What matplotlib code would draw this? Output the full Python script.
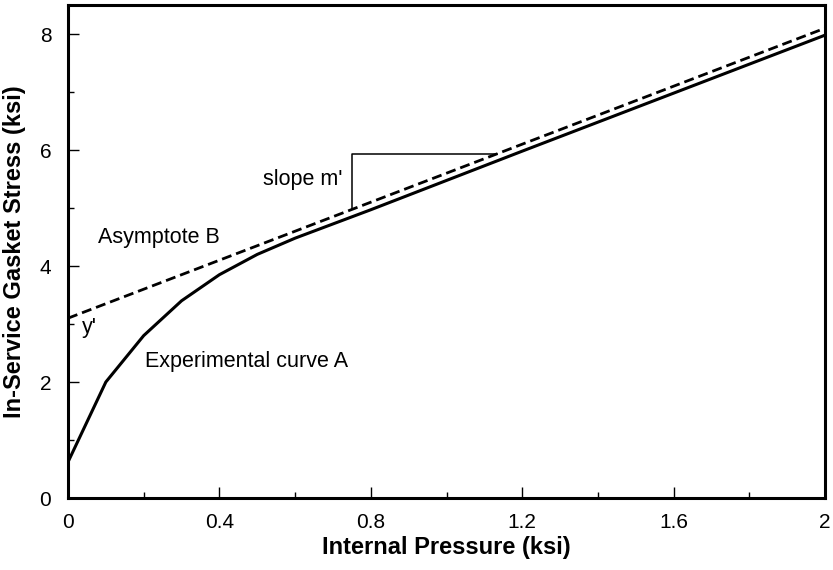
import matplotlib
matplotlib.use('Agg')
import matplotlib.pyplot as plt
from matplotlib.ticker import MultipleLocator

plt.rcParams['font.family'] = ['Liberation Sans', 'DejaVu Sans']

# experimental curve A
pressure = [0, 0.1, 0.2, 0.3, 0.4, 0.5, 0.6, 0.8, 1.2, 1.6, 2.0]
stress = [0.62, 2.0, 2.8, 3.4, 3.85, 4.2, 4.48, 4.97, 5.98, 6.98, 7.98]

# asymptote B
asym_x = [0, 2.0]
asym_y = [3.1, 8.1]

# slope triangle
tri_x = [0.75, 0.75, 1.133]
tri_y = [4.975, 5.93, 5.93]

xticks = [0, 0.4, 0.8, 1.2, 1.6, 2]
xticklabels = ['0', '0.4', '0.8', '1.2', '1.6', '2']
yticks = [0, 2, 4, 6, 8]

fig = plt.figure(figsize=(8.33, 5.7), dpi=100)
ax = fig.add_axes([68/833, 1 - 498/570, (825-68)/833, (498-5)/570])

ax.plot(pressure, stress, color='black', lw=2.2, solid_joinstyle='miter')
ax.plot(asym_x, asym_y, color='black', lw=2.0, ls=(0, (3.6, 1.8)))
ax.plot(tri_x, tri_y, color='black', lw=1.1)

ax.text(0.515, 5.40, "slope m'", fontsize=15.5)
ax.text(0.079, 4.40, 'Asymptote B', fontsize=15.5)
ax.text(0.037, 2.84, "y'", fontsize=15.5)
ax.text(0.203, 2.26, 'Experimental curve A', fontsize=15.5)

ax.set_xlim(0, 2)
ax.set_ylim(0, 8.5)
ax.set_xticks(xticks)
ax.set_xticklabels(xticklabels)
ax.set_yticks(yticks)
ax.xaxis.set_minor_locator(MultipleLocator(0.2))
ax.yaxis.set_minor_locator(MultipleLocator(1))
ax.tick_params(which='major', direction='in', length=8, width=1, labelsize=15, pad=11)
ax.tick_params(which='minor', direction='in', length=4, width=1)
ax.tick_params(axis='y', pad=12)

ax.set_xlabel('Internal Pressure (ksi)', fontsize=17, fontweight='bold', labelpad=3)
ax.set_ylabel('In-Service Gasket Stress (ksi)', fontsize=17, fontweight='bold', labelpad=10)

for s in ax.spines.values():
    s.set_linewidth(2.2)

fig.savefig('out.png', dpi=100)
